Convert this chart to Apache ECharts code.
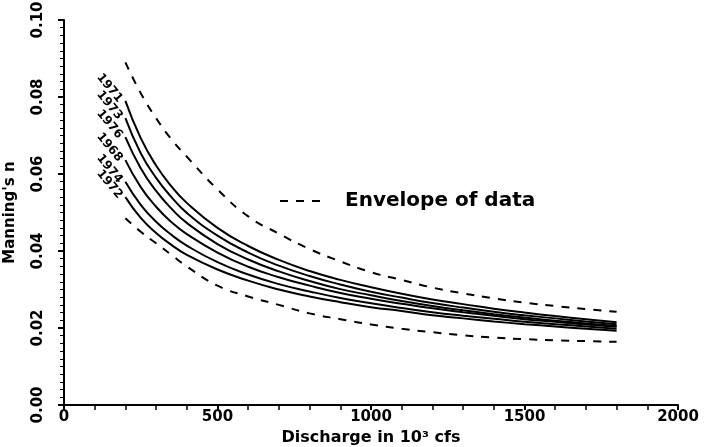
<!DOCTYPE html>
<html>
<head>
<meta charset="utf-8">
<script src="https://cdn.jsdelivr.net/npm/echarts@6/dist/echarts.min.js"></script>
<style>
html,body{margin:0;padding:0;background:#fff;}
#chart{width:704px;height:447px;}
</style>
</head>
<body>
<div id="chart"></div>
<script>
// Discharge (10^3 cfs)
var discharge = [200,250,300,350,400,500,600,700,800,900,1000,1100,1200,1300,1400,1500,1600,1700,1800];
var envelopeUpper = [0.089,0.081,0.0745,0.069,0.0645,0.056,0.049,0.0445,0.0405,0.0373,0.0345,0.0325,0.0305,0.029,0.0277,0.0266,0.0257,0.0249,0.0242];
var envelopeLower = [0.0485,0.045,0.042,0.039,0.036,0.031,0.0282,0.026,0.0238,0.0223,0.0209,0.0198,0.0189,0.0181,0.0175,0.0171,0.0168,0.0166,0.0164];
var yearNames = ['1971','1973','1976','1968','1974','1972'];
var y1971 = [0.079,0.0693,0.0622,0.0568,0.0525,0.046,0.0413,0.0377,0.0348,0.0325,0.0306,0.0289,0.0274,0.0262,0.025,0.024,0.0231,0.0223,0.0215];
var y1973 = [0.0745,0.0654,0.059,0.054,0.0499,0.044,0.0396,0.0362,0.0335,0.0313,0.0294,0.0279,0.0265,0.0253,0.0242,0.0233,0.0225,0.0217,0.021];
var y1976 = [0.0696,0.0615,0.0556,0.051,0.0473,0.0418,0.0378,0.0347,0.0322,0.0301,0.0285,0.027,0.0257,0.0246,0.0236,0.0227,0.0219,0.0212,0.0205];
var y1968 = [0.0636,0.0566,0.0515,0.0475,0.0444,0.0396,0.0359,0.0332,0.031,0.0291,0.0276,0.0263,0.0251,0.0241,0.0232,0.0223,0.0216,0.0209,0.0203];
var y1974 = [0.058,0.0520,0.0476,0.0442,0.0414,0.0371,0.0339,0.0314,0.0295,0.0278,0.0264,0.0252,0.0241,0.0232,0.0224,0.0216,0.021,0.0204,0.0198];
var y1972 = [0.054,0.0486,0.0447,0.0416,0.039,0.0352,0.0323,0.030,0.0282,0.0267,0.0254,0.0244,0.0233,0.0225,0.0217,0.021,0.0204,0.0198,0.0193];
var yearValues = [y1971,y1973,y1976,y1968,y1974,y1972];
var xTicks = [0,500,1000,1500,2000];
var yTicks = [0.00,0.02,0.04,0.06,0.08,0.10];
var legendLabel = 'Envelope of data';

var FONT = 'DejaVu Sans';
function pairs(ys){ return discharge.map(function(x,i){ return [x, ys[i]]; }); }
function labelled(ys, name){
  var d = pairs(ys);
  d[0] = {value: d[0], label: {show: true, formatter: name}};
  return d;
}
var series = [];
[envelopeUpper, envelopeLower].forEach(function(ys){
  series.push({
    name: legendLabel, type: 'line', smooth: true, symbol: 'none',
    data: pairs(ys),
    lineStyle: {color: '#000', width: 2, type: [8, 8]},
    itemStyle: {color: '#000'}
  });
});
yearValues.forEach(function(ys, k){
  series.push({
    name: yearNames[k], type: 'line', smooth: true,
    symbol: 'circle', symbolSize: 0.1, showSymbol: true,
    data: labelled(ys, yearNames[k]),
    lineStyle: {color: '#000', width: 2},
    itemStyle: {color: '#000'},
    label: {show: false, position: 'left', distance: 5, rotate: -50,
      fontFamily: FONT, fontWeight: 'bold', fontSize: 12, color: '#000'}
  });
});

var chart = echarts.init(document.getElementById('chart'), null, {renderer: 'canvas'});
chart.setOption({
  animation: false,
  backgroundColor: '#fff',
  grid: {left: 64, right: 26, top: 20, bottom: 42, containLabel: false, outerBoundsMode: 'none'},
  legend: {
    data: [legendLabel],
    left: 274, top: 186,
    itemWidth: 48, itemHeight: 14,
    itemStyle: {opacity: 0},
    textStyle: {fontFamily: FONT, fontWeight: 'bold', fontSize: 20, color: '#000', padding: [0,0,0,12]}
  },
  xAxis: {
    type: 'value', min: 0, max: 2000, interval: 500,
    name: 'Discharge in 10\u00B3 cfs', nameLocation: 'middle', nameGap: 18,
    nameTextStyle: {fontFamily: FONT, fontWeight: 'bold', fontSize: 16, color: '#000'},
    axisLine: {lineStyle: {color: '#000', width: 2}},
    axisTick: {show: true, length: 5, inside: false, lineStyle: {color: '#000', width: 2}},
    minorTick: {show: true, splitNumber: 5, length: 5, lineStyle: {color: '#000', width: 1.5}},
    splitLine: {show: false},
    axisLabel: {fontFamily: FONT, fontWeight: 'bold', fontSize: 15, color: '#000', margin: 5,
      formatter: function(v){ return xTicks.indexOf(v) >= 0 ? String(v) : ''; }}
  },
  yAxis: {
    type: 'value', min: 0, max: 0.10, interval: 0.02,
    name: "Manning's n", nameLocation: 'middle', nameGap: 46, nameRotate: 90,
    nameTextStyle: {fontFamily: FONT, fontWeight: 'bold', fontSize: 15, color: '#000'},
    axisLine: {lineStyle: {color: '#000', width: 2}},
    axisTick: {show: true, length: 6, lineStyle: {color: '#000', width: 2}},
    minorTick: {show: true, splitNumber: 10, length: 4, lineStyle: {color: '#000', width: 1}},
    splitLine: {show: false},
    axisLabel: {fontFamily: FONT, fontWeight: 'bold', fontSize: 15, color: '#000', rotate: 90, margin: 18,
      formatter: function(v){ var r = Math.round(v*100)/100; return yTicks.indexOf(r) >= 0 ? r.toFixed(2) : ''; }}
  },
  series: series
});
</script>
</body>
</html>
